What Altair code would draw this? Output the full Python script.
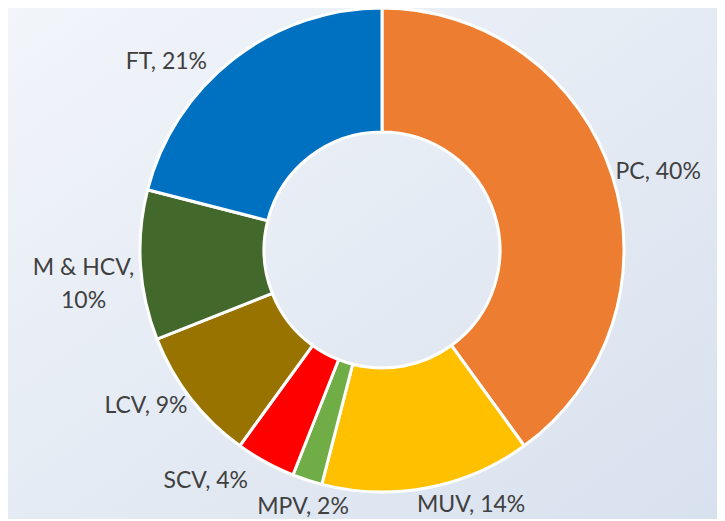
import math
import altair as alt
import pandas as pd

categories = ["PC", "MUV", "MPV", "SCV", "LCV", "M & HCV", "FT"]
values = [40, 14, 2, 4, 9, 10, 21]
labels = ["PC, 40%", "MUV, 14%", "MPV, 2%", "SCV, 4%", "LCV, 9%", "M & HCV,\n10%", "FT, 21%"]
colors = ["#ED7D31", "#FFC000", "#70AD47", "#FF0000", "#997300", "#43682B", "#0070C0"]

df = pd.DataFrame({
    "cat": categories,
    "value": values,
    "label": labels,
    "idx": list(range(len(categories))),
})

W, H = 709, 511
CX, CY = 374, 242
R_OUT, R_IN = 242, 118
R_LABEL = 262

theta_scale = alt.Scale(domain=[0, 100], range=[0, 2 * math.pi])

bg = alt.Chart(alt.Data(values=[{"a": 1}])).mark_rect(
    color=alt.LinearGradient(
        gradient="linear", x1=0, y1=0, x2=1, y2=1,
        stops=[alt.GradientStop(color="#F2F5FA", offset=0),
               alt.GradientStop(color="#D8E1EE", offset=1)],
    )
).encode(x=alt.value(0), x2=alt.value(W), y=alt.value(0), y2=alt.value(H))

base = alt.Chart(df)

arcs = base.mark_arc(
    outerRadius=R_OUT, innerRadius=R_IN, stroke="white", strokeWidth=3
).encode(
    theta=alt.Theta("value:Q", stack=True, scale=theta_scale),
    order=alt.Order("idx:Q"),
    color=alt.Color("cat:N", scale=alt.Scale(domain=categories, range=colors), legend=None),
    x=alt.value(CX), y=alt.value(CY),
)

# label nudges (pixels) relative to the mid-angle point of each slice
nudges = {
    "PC": (27, 3), "MUV": (40, -2), "MPV": (2, 8), "SCV": (-50, 1),
    "LCV": (-29, -5), "M & HCV": (-37, 2), "FT": (-55, 19),
}

text_layers = []
for cat in categories:
    dx, dy = nudges[cat]
    t = base.transform_window(
        cum="sum(value)", sort=[alt.SortField("idx")], frame=[None, 0]
    ).transform_calculate(
        mid="datum.cum - datum.value / 2"
    ).transform_filter(
        alt.datum.cat == cat
    ).mark_text(
        radius=R_LABEL, dx=dx, dy=dy, font="Lato", fontSize=23,
        color="#404040", align="center", baseline="middle",
        lineBreak="\n", lineHeight=33,
    ).encode(
        theta=alt.Theta("mid:Q", stack=None, scale=theta_scale),
        text="label:N",
        x=alt.value(CX), y=alt.value(CY),
    )
    text_layers.append(t)

chart = alt.layer(bg, arcs, *text_layers).properties(
    width=W, height=H, autosize=alt.AutoSizeParams(type="none"), padding=0
).configure_view(stroke=None)

chart.save("out.html", embed_options={"renderer": "svg", "actions": False})
